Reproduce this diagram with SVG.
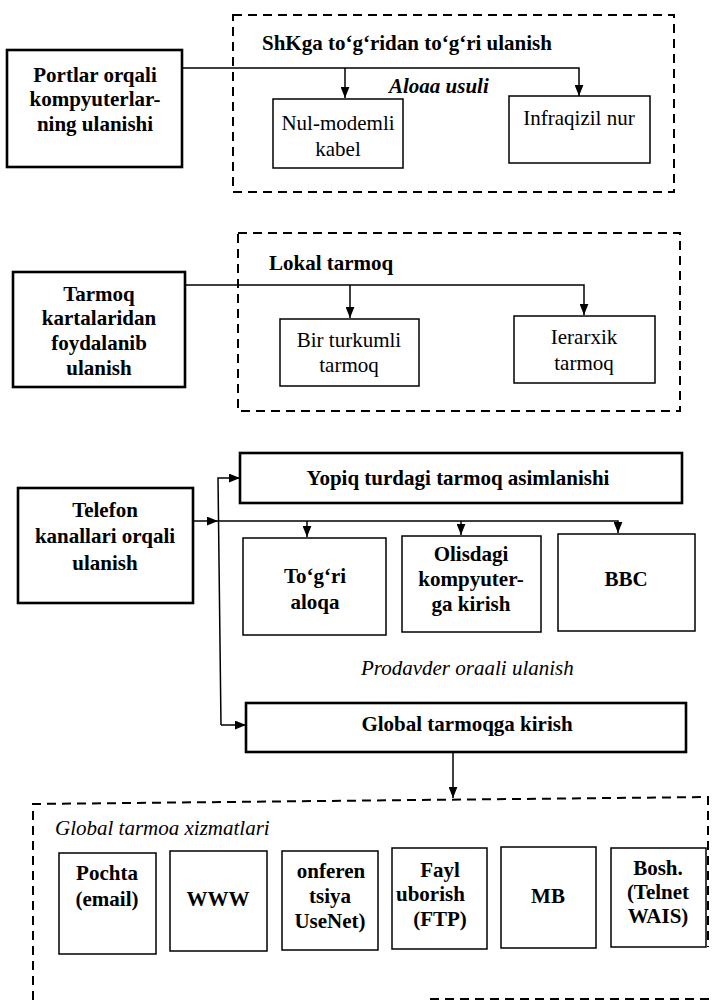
<svg xmlns="http://www.w3.org/2000/svg" width="712" height="1000" viewBox="0 0 712 1000">
  <defs>
    <marker id="arrow" viewBox="0 0 10 8" refX="10" refY="4" markerWidth="11" markerHeight="9" markerUnits="userSpaceOnUse" orient="auto">
      <path d="M0,0 L10,4 L0,8 z" fill="#000"/>
    </marker>
    <style>
      text { font-family: "Liberation Serif", "Times New Roman", serif; font-size: 21px; fill: #000; }
      .b { font-weight: bold; }
      .i { font-style: italic; }
      .c { text-anchor: middle; }
      .main { fill: #fff; stroke: #000; stroke-width: 2.6; }
      .box { fill: #fff; stroke: #000; stroke-width: 1.5; }
      .group { fill: none; stroke: #000; stroke-width: 2; stroke-dasharray: 9 6; }
      .wire { fill: none; stroke: #000; stroke-width: 1.5; }
    </style>
  </defs>
  <rect width="712" height="1000" fill="#fff"/>

  <!-- dashed group frames -->
  <g id="frames">
    <rect class="group" x="233" y="15" width="441" height="177"/>
    <rect class="group" x="238" y="233" width="442" height="178"/>
    <path class="group" d="M33,1000 V804 L708,797 V947"/>
    <path class="group" d="M430,999 H712"/>
  </g>

  <!-- group captions -->
  <g id="captions">
    <text class="b" x="262" y="50">ShKga to‘g‘ridan to‘g‘ri ulanish</text>
    <text class="b i" x="389" y="93">Aloaa usuli</text>
    <text class="b" x="269" y="270">Lokal tarmoq</text>
    <text class="i" x="361" y="675">Prodavder oraali ulanish</text>
    <text class="i" x="55" y="835">Global tarmoa xizmatlari</text>
  </g>

  <!-- connectors -->
  <g id="connectors">
    <path class="wire" d="M182,68 H579 V96" marker-end="url(#arrow)"/>
    <path class="wire" d="M345,68 V98" marker-end="url(#arrow)"/>
    <path class="wire" d="M185,285 H584 V315" marker-end="url(#arrow)"/>
    <path class="wire" d="M350,285 V318" marker-end="url(#arrow)"/>
    <path class="wire" d="M193,521 H218" marker-end="url(#arrow)"/>
    <path class="wire" d="M218,521 H618 V533" marker-end="url(#arrow)"/>
    <path class="wire" d="M307,521 V537" marker-end="url(#arrow)"/>
    <path class="wire" d="M461,521 V535" marker-end="url(#arrow)"/>
    <path class="wire" d="M221,725 L218,478 H240" marker-end="url(#arrow)"/>
    <path class="wire" d="M221,725 H246" marker-end="url(#arrow)"/>
    <path class="wire" d="M453,752 V798" marker-end="url(#arrow)"/>
  </g>

  <!-- section 1 -->
  <g id="portlar">
    <rect class="main" x="7" y="50" width="175" height="117"/>
    <text class="b c" x="95" y="82">Portlar orqali</text>
    <text class="b c" x="95" y="106">kompyuterlar-</text>
    <text class="b c" x="95" y="131">ning ulanishi</text>
  </g>
  <g id="nul-modem">
    <rect class="box" x="273" y="99" width="130" height="69"/>
    <text class="c" x="338" y="130">Nul-modemli</text>
    <text class="c" x="338" y="156">kabel</text>
  </g>
  <g id="infraqizil">
    <rect class="box" x="509" y="96" width="141" height="67"/>
    <text class="c" x="579" y="125">Infraqizil nur</text>
  </g>

  <!-- section 2 -->
  <g id="tarmoq">
    <rect class="main" x="13" y="272" width="172" height="115"/>
    <text class="b c" x="99" y="301">Tarmoq</text>
    <text class="b c" x="99" y="325">kartalaridan</text>
    <text class="b c" x="99" y="350">foydalanib</text>
    <text class="b c" x="99" y="375">ulanish</text>
  </g>
  <g id="bir-turkumli">
    <rect class="box" x="280" y="319" width="139" height="67"/>
    <text class="c" x="349" y="347">Bir turkumli</text>
    <text class="c" x="349" y="372">tarmoq</text>
  </g>
  <g id="ierarxik">
    <rect class="box" x="514" y="316" width="141" height="67"/>
    <text class="c" x="584" y="344">Ierarxik</text>
    <text class="c" x="584" y="370">tarmoq</text>
  </g>

  <!-- section 3 -->
  <g id="telefon">
    <rect class="main" x="18" y="488" width="175" height="115"/>
    <text class="b c" x="105" y="517">Telefon</text>
    <text class="b c" x="105" y="543">kanallari orqali</text>
    <text class="b c" x="105" y="570">ulanish</text>
  </g>
  <g id="yopiq">
    <rect class="main" x="240" y="453" width="442" height="50"/>
    <text class="b c" x="458" y="485">Yopiq turdagi tarmoq asimlanishi</text>
  </g>
  <g id="togri-aloqa">
    <rect class="box" x="243" y="538" width="143" height="97"/>
    <text class="b c" x="315" y="583">To‘g‘ri</text>
    <text class="b c" x="315" y="609">aloqa</text>
  </g>
  <g id="olisdagi">
    <rect class="box" x="402" y="536" width="139" height="96"/>
    <text class="b c" x="471" y="561">Olisdagi</text>
    <text class="b c" x="471" y="586">kompyuter-</text>
    <text class="b c" x="471" y="611">ga kirish</text>
  </g>
  <g id="bbc">
    <rect class="box" x="558" y="534" width="137" height="97"/>
    <text class="b c" x="626" y="586">BBC</text>
  </g>
  <g id="global">
    <rect class="main" x="246" y="703" width="440" height="49"/>
    <text class="b c" x="467" y="731">Global tarmoqga kirish</text>
  </g>

  <!-- section 4: services -->
  <g id="pochta">
    <rect class="box" x="59" y="853" width="97" height="101"/>
    <text class="b c" x="107" y="880">Pochta</text>
    <text class="b c" x="107" y="906">(email)</text>
  </g>
  <g id="www">
    <rect class="box" x="170" y="851" width="97" height="100"/>
    <text class="b c" x="218" y="906">WWW</text>
  </g>
  <g id="konferentsiya">
    <rect class="box" x="282" y="851" width="96" height="99"/>
    <text class="b c" x="331" y="878">onferen</text>
    <text class="b c" x="330" y="903">tsiya</text>
    <text class="b c" x="330" y="928">UseNet)</text>
  </g>
  <g id="fayl">
    <rect class="box" x="392" y="848" width="95" height="101"/>
    <text class="b c" x="440" y="877">Fayl</text>
    <text class="b" x="396" y="901">uborish</text>
    <text class="b c" x="440" y="926">(FTP)</text>
  </g>
  <g id="mb">
    <rect class="box" x="501" y="847" width="95" height="101"/>
    <text class="b c" x="548" y="903">MB</text>
  </g>
  <g id="bosh">
    <rect class="box" x="611" y="848" width="95" height="99"/>
    <text class="b c" x="658" y="875">Bosh.</text>
    <text class="b c" x="658" y="899">(Telnet</text>
    <text class="b c" x="658" y="923">WAIS)</text>
  </g>
</svg>
